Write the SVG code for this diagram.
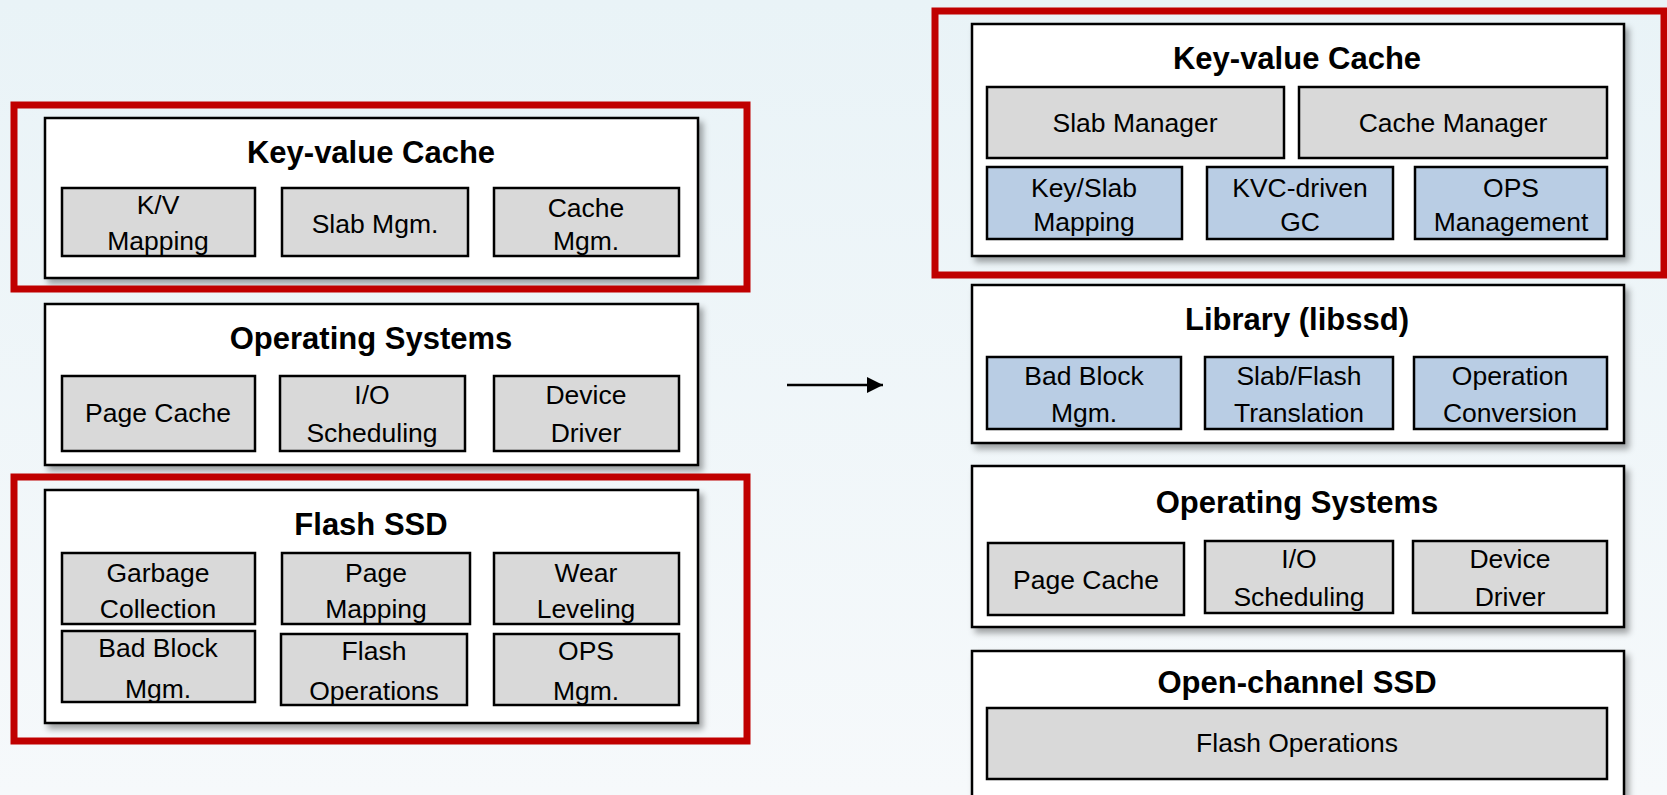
<svg xmlns="http://www.w3.org/2000/svg" width="1667" height="795" viewBox="0 0 1667 795">
<defs>
<linearGradient id="bg" x1="0" y1="0" x2="0" y2="1">
<stop offset="0" stop-color="#e9f3f7"/>
<stop offset="1" stop-color="#f6f9fb"/>
</linearGradient>
<filter id="sh" x="-5%" y="-5%" width="115%" height="120%">
<feDropShadow dx="4" dy="5" stdDeviation="3" flood-color="#000" flood-opacity="0.35"/>
</filter>
<marker id="ah" viewBox="0 0 16 16" refX="16" refY="8" markerWidth="16" markerHeight="16" orient="auto" markerUnits="userSpaceOnUse">
<path d="M0,0 L16,8 L0,16 z" fill="#000"/>
</marker>
<style>
.main{fill:#fff;stroke:#000;stroke-width:2.5;filter:url(#sh)}
.g{fill:#d9d9d9;stroke:#000;stroke-width:2.5}
.b{fill:#b9cde4;stroke:#000;stroke-width:2.5}
.red{fill:none;stroke:#c00000;stroke-width:7}
.t{font-family:"Liberation Sans",Arial,sans-serif;font-weight:bold;font-size:31px;fill:#000;text-anchor:middle}
.s{font-family:"Liberation Sans",Arial,sans-serif;font-size:26.5px;fill:#000;text-anchor:middle}
</style>
</defs>
<rect width="1667" height="795" fill="url(#bg)"/>

<g id="left-kvc">
<rect class="main" x="45" y="118" width="653" height="160"/>
<text class="t" x="371" y="163">Key-value Cache</text>
<rect class="g" x="62" y="188" width="193" height="68"/>
<text class="s" x="158" y="214">K/V</text>
<text class="s" x="158" y="250">Mapping</text>
<rect class="g" x="282" y="188" width="186" height="68"/>
<text class="s" x="375" y="233">Slab Mgm.</text>
<rect class="g" x="494" y="188" width="185" height="68"/>
<text class="s" x="586" y="217">Cache</text>
<text class="s" x="586" y="250">Mgm.</text>
</g>

<g id="left-os">
<rect class="main" x="45" y="304" width="653" height="161"/>
<text class="t" x="371" y="349">Operating Systems</text>
<rect class="g" x="62" y="376" width="193" height="75"/>
<text class="s" x="158" y="422">Page Cache</text>
<rect class="g" x="280" y="376" width="185" height="75"/>
<text class="s" x="372" y="404">I/O</text>
<text class="s" x="372" y="442">Scheduling</text>
<rect class="g" x="494" y="376" width="185" height="75"/>
<text class="s" x="586" y="404">Device</text>
<text class="s" x="586" y="442">Driver</text>
</g>

<g id="left-flash">
<rect class="main" x="45" y="490" width="653" height="233"/>
<text class="t" x="371" y="535">Flash SSD</text>
<rect class="g" x="62" y="553" width="193" height="71"/>
<text class="s" x="158" y="582">Garbage</text>
<text class="s" x="158" y="618">Collection</text>
<rect class="g" x="282" y="553" width="188" height="71"/>
<text class="s" x="376" y="582">Page</text>
<text class="s" x="376" y="618">Mapping</text>
<rect class="g" x="494" y="553" width="185" height="71"/>
<text class="s" x="586" y="582">Wear</text>
<text class="s" x="586" y="618">Leveling</text>
<rect class="g" x="62" y="631" width="193" height="71"/>
<text class="s" x="158" y="657">Bad Block</text>
<text class="s" x="158" y="698">Mgm.</text>
<rect class="g" x="281" y="634" width="186" height="71"/>
<text class="s" x="374" y="660">Flash</text>
<text class="s" x="374" y="700">Operations</text>
<rect class="g" x="494" y="634" width="185" height="71"/>
<text class="s" x="586" y="660">OPS</text>
<text class="s" x="586" y="700">Mgm.</text>
</g>

<g id="right-kvc">
<rect class="main" x="972" y="24" width="652" height="232"/>
<text class="t" x="1297" y="69">Key-value Cache</text>
<rect class="g" x="987" y="87" width="297" height="71"/>
<text class="s" x="1135" y="132">Slab Manager</text>
<rect class="g" x="1299" y="87" width="308" height="71"/>
<text class="s" x="1453" y="132">Cache Manager</text>
<rect class="b" x="987" y="167" width="195" height="72"/>
<text class="s" x="1084" y="197">Key/Slab</text>
<text class="s" x="1084" y="231">Mapping</text>
<rect class="b" x="1207" y="167" width="186" height="72"/>
<text class="s" x="1300" y="197">KVC-driven</text>
<text class="s" x="1300" y="231">GC</text>
<rect class="b" x="1415" y="167" width="192" height="72"/>
<text class="s" x="1511" y="197">OPS</text>
<text class="s" x="1511" y="231">Management</text>
</g>

<g id="right-lib">
<rect class="main" x="972" y="285" width="652" height="158"/>
<text class="t" x="1297" y="330">Library (libssd)</text>
<rect class="b" x="987" y="357" width="194" height="72"/>
<text class="s" x="1084" y="385">Bad Block</text>
<text class="s" x="1084" y="422">Mgm.</text>
<rect class="b" x="1205" y="357" width="188" height="72"/>
<text class="s" x="1299" y="385">Slab/Flash</text>
<text class="s" x="1299" y="422">Translation</text>
<rect class="b" x="1414" y="357" width="193" height="72"/>
<text class="s" x="1510" y="385">Operation</text>
<text class="s" x="1510" y="422">Conversion</text>
</g>

<g id="right-os">
<rect class="main" x="972" y="466" width="652" height="161"/>
<text class="t" x="1297" y="513">Operating Systems</text>
<rect class="g" x="988" y="543" width="196" height="72"/>
<text class="s" x="1086" y="589">Page Cache</text>
<rect class="g" x="1205" y="541" width="188" height="72"/>
<text class="s" x="1299" y="568">I/O</text>
<text class="s" x="1299" y="606">Scheduling</text>
<rect class="g" x="1413" y="541" width="194" height="72"/>
<text class="s" x="1510" y="568">Device</text>
<text class="s" x="1510" y="606">Driver</text>
</g>

<g id="right-ocssd">
<rect class="main" x="972" y="651" width="652" height="160"/>
<text class="t" x="1297" y="693">Open-channel SSD</text>
<rect class="g" x="987" y="708" width="620" height="71"/>
<text class="s" x="1297" y="752">Flash Operations</text>
</g>

<g id="highlights">
<rect class="red" x="14" y="105" width="733" height="184"/>
<rect class="red" x="14" y="477" width="733" height="264"/>
<rect class="red" x="935" y="11" width="729" height="264"/>
</g>

<g id="connectors">
<line x1="787" y1="385" x2="883" y2="385" stroke="#000" stroke-width="2.5" marker-end="url(#ah)"/>
</g>
</svg>
